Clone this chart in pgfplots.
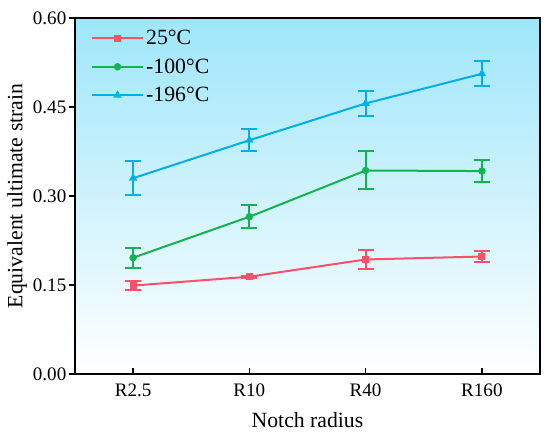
\documentclass[border=0pt]{standalone}
\usepackage{fontspec}
\setmainfont{Liberation Serif}
\usepackage{pgfplots}
\pgfplotsset{compat=1.18}
\definecolor{cred}{RGB}{250,80,105}
\definecolor{cgreen}{RGB}{20,178,80}
\definecolor{cblue}{RGB}{0,175,228}
\definecolor{bgtop}{RGB}{158,230,250}
\begin{document}
\begin{tikzpicture}
\begin{axis}[
  at={(0pt,0pt)}, anchor=south west,
  scale only axis,
  width=348.75pt, height=267pt,
  xmin=-0.5, xmax=3.5,
  ymin=0, ymax=0.6,
  xtick={0,1,2,3},
  xticklabels={R2.5,R10,R40,R160},
  ytick={0,0.15,0.30,0.45,0.60},
  yticklabel style={/pgf/number format/fixed, /pgf/number format/fixed zerofill, /pgf/number format/precision=2, xshift=-3pt},
  xticklabel style={yshift=-4pt},
  /pgf/number format/assume math mode=true,
  tick label style={font=\fontsize{14.3}{16}\selectfont},
  label style={font=\fontsize{16.3}{19}\selectfont},
  xlabel={Notch radius},
  ylabel={Equivalent ultimate strain},
  xlabel style={yshift=-5pt},
  ylabel style={yshift=-2.5pt},
  axis line style={line width=1pt},
  major tick length=4.5pt,
  tick align=inside,
  tick style={line width=1pt, black},
  xtick pos=bottom, ytick pos=left,
  y tick style={xshift=-4.5pt},
  axis background/.style={shade, top color=bgtop, bottom color=white},
  legend style={at={(0.032,0.978)}, anchor=north west, draw=none, fill=none,
    font=\fontsize{16.3}{19}\selectfont, row sep=5pt, inner sep=1pt},
  legend cell align=left,
  legend image code/.code={\draw[#1] (0pt,0pt) -- (0.66cm,0pt) plot coordinates {(0.66cm,0pt)}; \draw[#1] (0.66cm,0pt) -- (1.32cm,0pt);},
  every axis plot/.append style={line width=1.5pt},
  error bars/error bar style={line width=1.5pt},
  error bars/error mark options={rotate=90, mark size=6pt, line width=1.5pt},
]
\addplot[cred, mark=square*, mark size=1.8pt, error bars/.cd, y dir=both, y explicit]
  coordinates {(0,0.149) +- (0,0.007) (1,0.164) +- (0,0.002) (2,0.193) +- (0,0.016) (3,0.198) +- (0,0.009)};
\addlegendentry{25°C}
\addplot[cgreen, mark=*, mark size=2pt, error bars/.cd, y dir=both, y explicit]
  coordinates {(0,0.196) +- (0,0.017) (1,0.265) +- (0,0.019) (2,0.343) +- (0,0.032) (3,0.342) +- (0,0.018)};
\addlegendentry{-100°C}
\addplot[cblue, mark=triangle*, mark size=2.2pt, error bars/.cd, y dir=both, y explicit]
  coordinates {(0,0.330) +- (0,0.029) (1,0.394) +- (0,0.019) (2,0.456) +- (0,0.021) (3,0.506) +- (0,0.021)};
\addlegendentry{-196°C}
\end{axis}
\path (-56.25pt,-48pt) rectangle (356.25pt,280.5pt);
\end{tikzpicture}
\end{document}
